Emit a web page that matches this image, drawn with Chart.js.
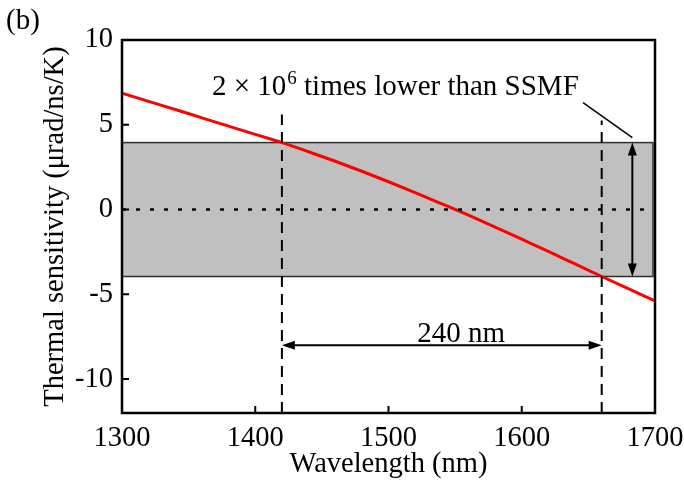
<!DOCTYPE html>
<html>
<head>
<meta charset="utf-8">
<script src="https://cdn.jsdelivr.net/npm/chart.js@4"></script>
<style>
  body { margin: 0; background: #fff; }
  #wrap { width: 684px; height: 486px; position: relative; }
</style>
</head>
<body>
<div id="wrap"><canvas id="sensChart"></canvas></div>
<script>
// thermal sensitivity curve (urad/ns/K) vs wavelength (nm)
const wavelengths = [1300, 1320, 1340, 1360, 1380, 1400, 1420, 1440, 1460, 1480, 1500,
                     1520, 1540, 1560, 1580, 1600, 1620, 1640, 1660, 1680, 1700];
const sensitivity = [6.86, 6.38, 5.90, 5.41, 4.92, 4.43, 3.95, 3.41, 2.85, 2.26, 1.64,
                     1.00, 0.34, -0.33, -1.03, -1.75, -2.47, -3.21, -3.95, -4.67, -5.39];

const xTicks = [1300, 1400, 1500, 1600, 1700];
const xTickLabels = ['1300', '1400', '1500', '1600', '1700'];
const yTicks = [-10, -5, 0, 5, 10];
const yTickLabels = ['-10', '-5', '0', '5', '10'];

// shaded window and the two band-edge wavelengths
const bandLimit = 3.95;
const edgeWavelengths = [1420, 1660];
const edgeTops = [5.6, 5.25];
const spanArrowY = -8;
const ratioArrowX = 1683;
const leader = [[1646, 6.3], [1683, 4.24]];

const FONT = '"Liberation Serif", "Times New Roman", serif';
const FS = 28.5;

Chart.defaults.font.family = FONT;
Chart.defaults.font.size = FS;
Chart.defaults.color = '#000';

function arrowHead(ctx, x, y, dx, dy){
  // filled head pointing along (dx,dy)
  const len = 13, half = 4.5;
  const px = -dy, py = dx;
  ctx.beginPath();
  ctx.moveTo(x, y);
  ctx.lineTo(x - dx*len + px*half, y - dy*len + py*half);
  ctx.lineTo(x - dx*len - px*half, y - dy*len - py*half);
  ctx.closePath();
  ctx.fill();
}

const decorPlugin = {
  id: 'decor',
  beforeDatasetsDraw(chart){
    const {ctx, chartArea: a, scales: {x, y}} = chart;
    const top = y.getPixelForValue(bandLimit);
    const bot = y.getPixelForValue(-bandLimit);
    ctx.save();
    ctx.fillStyle = '#c0c0c0';
    ctx.fillRect(a.left, top, a.right - a.left - 2, bot - top);
    ctx.strokeStyle = '#303030';
    ctx.lineWidth = 1.5;
    ctx.strokeRect(a.left, top, a.right - a.left - 2, bot - top);
    ctx.restore();
  },
  afterDatasetsDraw(chart){
    const {ctx, chartArea: a, scales: {x, y}} = chart;
    ctx.save();
    ctx.strokeStyle = '#000';
    ctx.fillStyle = '#000';

    // 240 nm span arrow
    const ay = y.getPixelForValue(spanArrowY);
    const x1 = x.getPixelForValue(edgeWavelengths[0]);
    const x2 = x.getPixelForValue(edgeWavelengths[1]);
    ctx.lineWidth = 2;
    ctx.beginPath();
    ctx.moveTo(x1 + 8, ay); ctx.lineTo(x2 - 8, ay);
    ctx.stroke();
    arrowHead(ctx, x1, ay, -1, 0);
    arrowHead(ctx, x2, ay, 1, 0);

    // vertical arrow across the band
    const vx = x.getPixelForValue(ratioArrowX);
    const vt = y.getPixelForValue(bandLimit);
    const vb = y.getPixelForValue(-bandLimit);
    ctx.beginPath();
    ctx.moveTo(vx, vt + 8); ctx.lineTo(vx, vb - 8);
    ctx.stroke();
    arrowHead(ctx, vx, vt, 0, -1);
    arrowHead(ctx, vx, vb, 0, 1);

    // leader line to the text
    ctx.lineWidth = 1.5;
    ctx.beginPath();
    ctx.moveTo(x.getPixelForValue(leader[0][0]), y.getPixelForValue(leader[0][1]));
    ctx.lineTo(x.getPixelForValue(leader[1][0]), y.getPixelForValue(leader[1][1]));
    ctx.stroke();

    // labels
    ctx.textBaseline = 'alphabetic';
    ctx.textAlign = 'left';
    ctx.font = '29px ' + FONT;
    ctx.fillText('240 nm', x.getPixelForValue(1521.5), ay - 3);

    let tx = x.getPixelForValue(1367.5);
    const ty = y.getPixelForValue(6.75);
    const part1 = '2 × 10';
    ctx.fillText(part1, tx, ty);
    tx += ctx.measureText(part1).width + 1;
    ctx.font = '19px ' + FONT;
    ctx.fillText('6', tx, ty - 11);
    tx += ctx.measureText('6').width;
    ctx.font = '29px ' + FONT;
    ctx.fillText(' times lower than SSMF', tx, ty);

    // panel tag
    ctx.textBaseline = 'middle';
    ctx.fillText('(b)', 6, 21);
    ctx.restore();
  },
  afterDraw(chart){
    const {ctx, chartArea: a, scales: {x, y}} = chart;
    ctx.save();
    ctx.strokeStyle = '#000';
    ctx.lineWidth = 2.5;
    ctx.strokeRect(a.left, a.top, a.right - a.left, a.bottom - a.top);
    // inward ticks on bottom and left axes
    ctx.lineWidth = 2;
    ctx.beginPath();
    xTicks.forEach(v => {
      const px = x.getPixelForValue(v);
      ctx.moveTo(px, a.bottom); ctx.lineTo(px, a.bottom - 7);
    });
    yTicks.forEach(v => {
      const py = y.getPixelForValue(v);
      ctx.moveTo(a.left, py); ctx.lineTo(a.left + 7, py);
    });
    ctx.stroke();
    ctx.restore();
  }
};

const curve = wavelengths.map((w, i) => ({x: w, y: sensitivity[i]}));
const edgeSets = edgeWavelengths.map((w, i) => ({
  data: [{x: w, y: -12}, {x: w, y: edgeTops[i]}],
  borderColor: '#000',
  borderWidth: 2,
  borderDash: [11, 7],
  pointRadius: 0,
  showLine: true
}));

new Chart(document.getElementById('sensChart'), {
  type: 'scatter',
  data: {
    datasets: [
      {
        data: [{x: 1300, y: 0}, {x: 1700, y: 0}],
        borderColor: '#000',
        borderWidth: 2.5,
        borderDash: [4, 10],
        pointRadius: 0,
        showLine: true
      },
      ...edgeSets,
      {
        data: curve,
        borderColor: '#ff0000',
        borderWidth: 3,
        pointRadius: 0,
        showLine: true,
        cubicInterpolationMode: 'monotone'
      }
    ]
  },
  options: {
    responsive: true,
    maintainAspectRatio: false,
    animation: false,
    layout: { padding: { top: 40, right: 29, left: 0, bottom: 0 } },
    plugins: { legend: { display: false }, tooltip: { enabled: false } },
    scales: {
      x: {
        type: 'linear',
        min: 1300, max: 1700,
        grid: { display: false, drawTicks: false },
        border: { display: false },
        afterBuildTicks: s => { s.ticks = xTicks.map(v => ({value: v})); },
        afterFit: s => { s.height = 73; s.paddingLeft = 0; s.paddingRight = 0; },
        ticks: {
          padding: 8, maxRotation: 0, autoSkip: false, color: '#000',
          callback: (v) => xTickLabels[xTicks.indexOf(v)]
        },
        title: { display: true, text: 'Wavelength (nm)', padding: { top: 0, bottom: 4 }, color: '#000' }
      },
      y: {
        type: 'linear',
        min: -12, max: 10,
        grid: { display: false, drawTicks: false },
        border: { display: false },
        afterBuildTicks: s => { s.ticks = yTicks.map(v => ({value: v})); },
        afterFit: s => { s.width = 122; s.paddingTop = 0; s.paddingBottom = 0; },
        ticks: {
          padding: 9, autoSkip: false, color: '#000',
          callback: (v) => yTickLabels[yTicks.indexOf(v)]
        },
        title: { display: true, text: 'Thermal sensitivity (μrad/ns/K)', padding: { top: 38, bottom: 0 }, color: '#000' }
      }
    }
  },
  plugins: [decorPlugin]
});
</script>
</body>
</html>
